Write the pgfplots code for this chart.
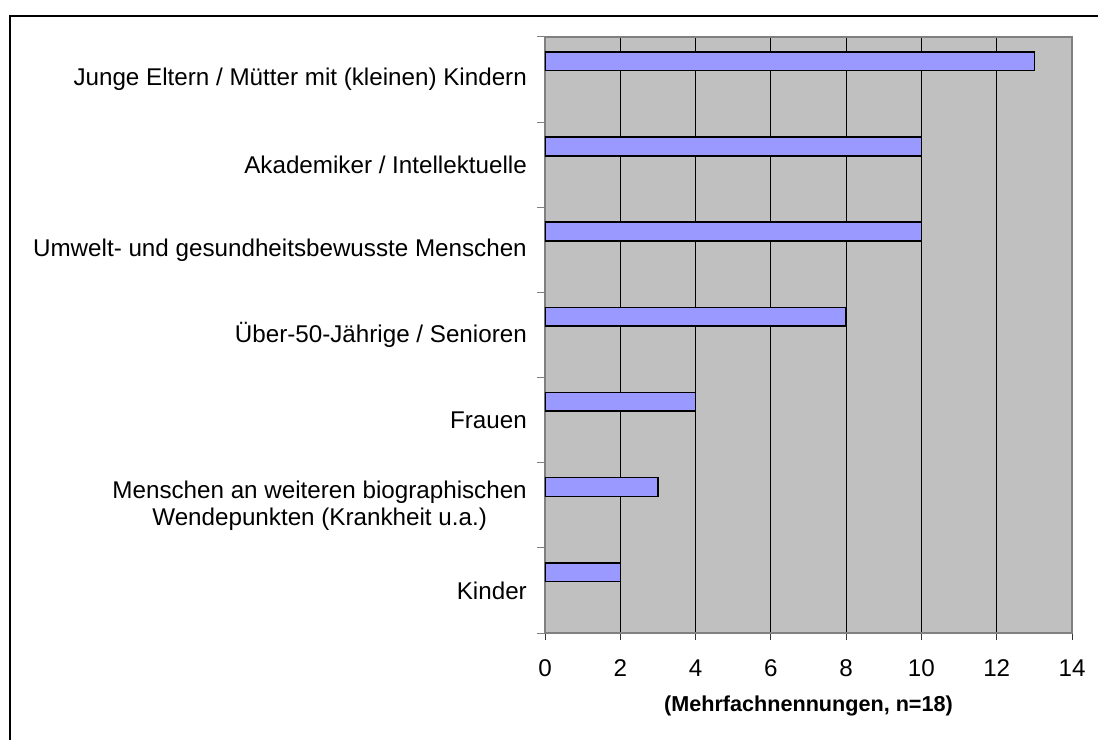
\documentclass[border=0pt]{standalone}
\usepackage{pgfplots}
\pgfplotsset{compat=1.18}
\usepackage{fontspec}
\setmainfont{Liberation Sans}
\definecolor{barblue}{HTML}{9999FF}
\definecolor{plotgray}{HTML}{C0C0C0}
\definecolor{axisgray}{HTML}{808080}

\begin{document}
\begin{tikzpicture}
\useasboundingbox (0pt,0pt) rectangle (1098pt,740pt);
% outer frame (only left and top edges visible)
\draw[line width=1.5pt] (10pt,0pt) -- (10pt,724pt) -- (1098pt,724pt);
\begin{axis}[
  at={(545pt,107pt)}, anchor=south west,
  scale only axis, width=527pt, height=596pt,
  xbar, bar width=0.22, bar shift=0.215,
  xmin=0, xmax=14, xtick={0,2,...,14},
  ymin=-0.5, ymax=6.5,
  ytick={0,...,6},
  yticklabels={Kinder,
    {Menschen an weiteren biographischen\\Wendepunkten (Krankheit u.a.)},
    Frauen,
    Über-50-Jährige / Senioren,
    Umwelt- und gesundheitsbewusste Menschen,
    Akademiker / Intellektuelle,
    Junge Eltern / Mütter mit (kleinen) Kindern},
  minor ytick={-0.5,0.5,...,6.5},
  xtick pos=bottom, ytick pos=left,
  tick align=outside,
  major tick length=7pt, minor tick length=8pt,
  major y tick style={draw=none},
  minor y tick style={draw=axisgray, line width=1pt},
  major x tick style={draw=black!80, line width=0.8pt},
  xmajorgrids, grid style={black, line width=0.9pt},
  axis background/.style={fill=plotgray},
  axis line style={axisgray, line width=1.5pt},
  /pgf/number format/assume math mode=true,
  tick label style={font=\fontsize{24.2}{27}\selectfont},
  yticklabel style={align=center, anchor=east, inner sep=0pt, xshift=-11pt},
  xticklabel style={anchor=north, inner sep=0pt, yshift=-19.5pt},
  xlabel={(Mehrfachnennungen, n=18)},
  xlabel style={at={(axis description cs:0.5,0)}, anchor=center, yshift=-73pt,
    font=\bfseries\fontsize{21.6}{24}\selectfont},
]
\addplot[fill=barblue, draw=black, line width=1.5pt]
  coordinates {(2,0) (3,1) (4,2) (8,3) (10,4) (10,5) (13,6)};
\end{axis}
\end{tikzpicture}
\end{document}
